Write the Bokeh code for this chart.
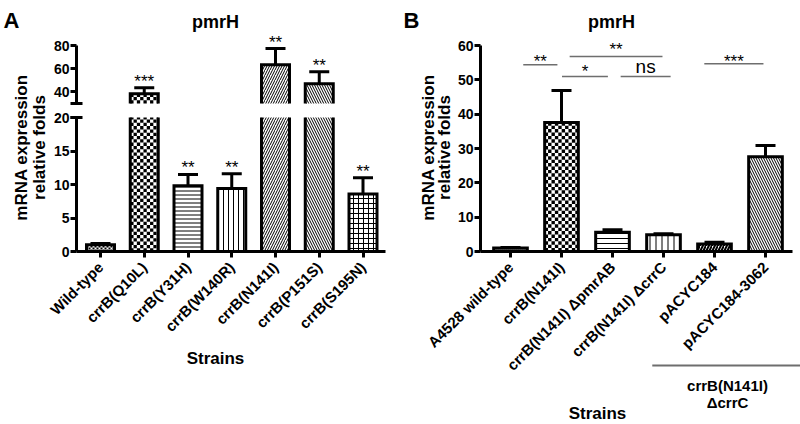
from math import pi, ceil
from bokeh.plotting import figure
from bokeh.models import (ColumnDataSource, Range1d, FixedTicker, Label, LabelSet,
                          Whisker, TeeHead, LinearAxis)
from bokeh.layouts import row
from bokeh.embed import file_html
from bokeh.resources import INLINE
from bokeh.core.properties import value

FONT = "Liberation Sans"

# ---------------- data: panel A ----------------
a_strains = ["Wild-type", "crrB(Q10L)", "crrB(Y31H)", "crrB(W140R)",
             "crrB(N141I)", "crrB(P151S)", "crrB(S195N)"]
a_values = [1.0, 38.3, 9.8, 9.4, 63.5, 47.0, 8.6]
a_err = [0.2, 5.2, 1.7, 2.2, 13.9, 10.4, 2.4]
a_sig = ["", "***", "**", "**", "**", "**", "**"]
a_low_ticks = [0, 5, 10, 15, 20]
a_high_ticks = [40, 60, 80]
a_break = (20, 30)
a_top = 80

# ---------------- data: panel B ----------------
b_strains = ["A4528 wild-type", "crrB(N141I)", "crrB(N141I) \u0394pmrAB",
             "crrB(N141I) \u0394crrC", "pACYC184", "pACYC184-3062"]
b_values = [1.0, 37.6, 5.6, 4.9, 2.2, 27.6]
b_err = [0.2, 9.3, 0.7, 0.3, 0.5, 3.3]
b_ticks = [0, 10, 20, 30, 40, 50, 60]
b_sig_text = ["**", "**", "*", "ns", "***"]
b_sig_x0 = [0.25, 1.16, 1.01, 2.16, 3.80]
b_sig_x1 = [0.92, 2.98, 1.91, 3.14, 4.96]
b_sig_y = [54.4, 56.8, 51.0, 51.0, 54.7]
b_group_lines = ["crrB(N141I)", "\u0394crrC"]
b_group_x = (2.78, 5.69)

# ---------------- styles ----------------
a_hatch = [" ", " ", "-", "|", "/", "\\", "+"]
a_hscale = [4, 6, 4, 5, 5, 5, 5]
a_hweight = [1, 1, 1, 1, 1, 1, 1]
a_check = [2.0, 3.3, 0, 0, 0, 0, 0]       # checkerboard cell size (px), 0 = none
b_hatch = [" ", " ", "-", "|", "/", "\\"]
b_hscale = [4, 6, 5, 6, 6, 5]
b_hweight = [1, 1, 1, 1, 2, 1]
b_check = [2.0, 3.4, 0, 0, 0, 0]
sig_offsets = [-2, 1, -1, 3, -3.5]
A_W, B_W = 0.64, 0.66

# ---------------- geometry (page pixels) ----------------
A_CANVAS = (0, 400, 0, 424)          # x0, x1, y0, y1 of panel A canvas
B_CANVAS = (400, 800, 0, 424)
A_X0, A_DX = 100.0, 43.75            # first bar centre, bar spacing
A_Y0, A_PPU = 251.0, 6.7             # y=0 pixel, px per unit (lower part)
A_HI_Y, A_HI_PPU = 45.0, 1.16        # pixel of y=80, px per unit (upper part)
A_AX = 76.0                          # y axis line pixel
A_RIGHT = 385.0
B_X0, B_DX = 510.0, 51.0
B_Y0, B_PPU = 251.0, 206.0 / 60.0
B_AX = 480.0
B_RIGHT = 792.0


def XA(px): return (px - A_X0) / A_DX
def YA(py): return (A_Y0 - py) / A_PPU
def HA(py): return a_top - (py - A_HI_Y) / A_HI_PPU
def XB(px): return (px - B_X0) / B_DX
def YB(py): return (B_Y0 - py) / B_PPU


def make_fig(canvas, xr, yr):
    x0, x1, y0, y1 = canvas
    p = figure(width=int(x1 - x0), height=int(y1 - y0), x_range=xr, y_range=yr,
               output_backend="svg", toolbar_location=None, tools="", title=None,
               x_axis_type=None, y_axis_type=None, min_border=0)
    p.grid.visible = False
    p.outline_line_color = None
    p.background_fill_color = "white"
    p.border_fill_color = "white"
    return p


def style_axis(ax, fs, standoff=1):
    ax.axis_line_width = 3
    ax.axis_line_color = "black"
    ax.major_tick_line_width = 3
    ax.major_tick_line_color = "black"
    ax.major_tick_out = 6
    ax.major_tick_in = 0
    ax.minor_tick_line_color = None
    ax.major_label_text_font = FONT
    ax.major_label_text_font_style = "bold"
    ax.major_label_text_font_size = fs
    ax.major_label_text_color = "black"
    ax.major_label_standoff = standoff


def add_label(p, x, y, text, size, bold=True, align="center", baseline="alphabetic",
              angle=0):
    p.add_layout(Label(x=x, y=y, text=text,
                       text_font=FONT, text_font_size=size,
                       text_font_style="bold" if bold else "normal",
                       text_align=align, text_baseline=baseline, angle=angle,
                       text_color="black"))


def add_errors(p, xs, lows, ups, yname="default"):
    src = ColumnDataSource(dict(x=xs, lower=lows, upper=ups))
    p.add_layout(Whisker(source=src, base="x", lower="lower", upper="upper",
                         dimension="height", line_width=3, line_color="black",
                         y_range_name=yname,
                         upper_head=TeeHead(size=20, line_width=3, line_color="black"),
                         lower_head=None))


def add_stars(p, xs, ys, texts, yname="default"):
    src = ColumnDataSource(dict(x=xs, y=ys, t=texts))
    p.add_layout(LabelSet(source=src, x="x", y="y", text="t", y_range_name=yname,
                          text_font=value(FONT), text_font_size=value("17px"),
                          text_align="center", text_baseline="alphabetic",
                          y_offset=1, text_color="black"))


def hline(p, y, x0, x1, width, color, yname="default"):
    s = ColumnDataSource(dict(y=[y], x0=[x0], x1=[x1]))
    p.add_layout(Whisker(source=s, base="y", lower="x0", upper="x1", dimension="width",
                         line_width=width, line_color=color, y_range_name=yname,
                         lower_head=None, upper_head=None))


def checker(p, xc, w, y0, y1, ppx, ppy, cell, yname="default"):
    """Checkerboard texture inside a bar piece, built from the bar's data extent."""
    left, right = xc - w / 2, xc + w / 2
    nx = int(ceil(w * ppx / cell))
    ny = int(ceil((y1 - y0) * ppy / cell))
    L, R, B, T = [], [], [], []
    for ix in range(nx):
        for iy in range(ny):
            if (ix + iy) % 2 == 0:
                l = left + ix * cell / ppx
                b = y0 + iy * cell / ppy
                L.append(l); R.append(min(l + cell / ppx, right))
                B.append(b); T.append(min(b + cell / ppy, y1))
    if L:
        p.quad(left=L, right=R, bottom=B, top=T, fill_color="black", line_color=None,
               y_range_name=yname)


# ================= panel A =================
na = len(a_strains)
ia = list(range(na))
pA = make_fig(A_CANVAS, Range1d(XA(A_CANVAS[0]), XA(A_CANVAS[1])),
              Range1d(YA(A_CANVAS[3]), YA(A_CANVAS[2])))
pA.extra_y_ranges = {"hi": Range1d(HA(A_CANVAS[3]), HA(A_CANVAS[2]))}

hatch_kw = dict(fill_color="white", hatch_pattern="hp", hatch_scale="hs",
                hatch_weight="hw", hatch_color="black")

# lower fills (cut at the break)
src_lo = ColumnDataSource(dict(
    x=ia, top=[min(v, a_break[0]) for v in a_values], bottom=[0] * na,
    hp=a_hatch, hs=a_hscale, hw=a_hweight))
pA.vbar(x="x", top="top", bottom="bottom", width=A_W, source=src_lo,
        line_color=None, **hatch_kw)
# upper fills
up = [i for i in ia if a_values[i] > a_break[1]]
src_up = ColumnDataSource(dict(
    x=up, top=[a_values[i] for i in up], bottom=[a_break[1]] * len(up),
    hp=[a_hatch[i] for i in up], hs=[a_hscale[i] for i in up],
    hw=[a_hweight[i] for i in up]))
pA.vbar(x="x", top="top", bottom="bottom", width=A_W, source=src_up,
        line_color=None, y_range_name="hi", **hatch_kw)

# checkerboard textures
for i in ia:
    if a_check[i] > 0:
        checker(pA, i, A_W, 0, min(a_values[i], a_break[0]), A_DX, A_PPU, a_check[i])
        if a_values[i] > a_break[1]:
            checker(pA, i, A_W, a_break[1], a_values[i], A_DX, A_HI_PPU, a_check[i], "hi")

# outlines
lo_xs, lo_ys = [], []
for i in ia:
    l, r = i - A_W / 2, i + A_W / 2
    if a_values[i] > a_break[0]:
        lo_xs.append([l, l, r, r]); lo_ys.append([a_break[0], 0, 0, a_break[0]])
    else:
        v = a_values[i]
        lo_xs.append([l, l, r, r, l]); lo_ys.append([0, v, v, 0, 0])
pA.multi_line(xs=lo_xs, ys=lo_ys, line_color="black", line_width=3, line_join="miter")
hi_xs = [[i - A_W / 2, i - A_W / 2, i + A_W / 2, i + A_W / 2] for i in up]
hi_ys = [[a_break[1], a_values[i], a_values[i], a_break[1]] for i in up]
pA.multi_line(xs=hi_xs, ys=hi_ys, line_color="black", line_width=3, line_join="miter",
              y_range_name="hi")

# error bars and stars
lo_rows = [i for i in ia if a_values[i] + a_err[i] <= a_break[0]]
add_errors(pA, lo_rows, [a_values[i] for i in lo_rows], [a_values[i] + a_err[i] for i in lo_rows])
add_stars(pA, lo_rows, [a_values[i] + a_err[i] for i in lo_rows], [a_sig[i] for i in lo_rows])
add_errors(pA, up, [a_values[i] for i in up], [a_values[i] + a_err[i] for i in up], "hi")
add_stars(pA, up, [a_values[i] + a_err[i] for i in up], [a_sig[i] for i in up], "hi")

# axes
ax_loc = XA(A_AX)
ylo = LinearAxis(fixed_location=ax_loc, bounds=(0, a_break[0]),
                 ticker=FixedTicker(ticks=a_low_ticks))
style_axis(ylo, "14px")
pA.add_layout(ylo, "left")
yhi = LinearAxis(fixed_location=ax_loc, bounds=(a_break[1], a_top), y_range_name="hi",
                 ticker=FixedTicker(ticks=a_high_ticks))
style_axis(yhi, "14px")
pA.add_layout(yhi, "left")
xa = LinearAxis(fixed_location=0, bounds=(ax_loc, XA(A_RIGHT)),
                ticker=FixedTicker(ticks=ia),
                major_label_overrides={i: s for i, s in enumerate(a_strains)},
                major_label_orientation=pi / 4)
style_axis(xa, "15px", standoff=7)
pA.add_layout(xa, "below")

# axis break caps
d = 6.0 / A_DX
hline(pA, a_break[0], ax_loc - d, ax_loc + d, 3, "black")
hline(pA, a_break[1], ax_loc - d, ax_loc + d, 3, "black", "hi")

# texts
add_label(pA, XA(3), YA(20), "A", "22px", align="left")
add_label(pA, XA(215), YA(21), "pmrH", "18px")
add_label(pA, XA(21), YA(147), "mRNA expression", "17px", baseline="middle", angle=pi / 2)
add_label(pA, XA(38.5), YA(147), "relative folds", "17px", baseline="middle", angle=pi / 2)
add_label(pA, XA(215), YA(358), "Strains", "17px")

# ================= panel B =================
nb = len(b_strains)
ib = list(range(nb))
pB = make_fig(B_CANVAS, Range1d(XB(B_CANVAS[0]), XB(B_CANVAS[1])),
              Range1d(YB(B_CANVAS[3]), YB(B_CANVAS[2])))
srcB = ColumnDataSource(dict(x=ib, top=b_values, bottom=[0] * nb,
                             hp=b_hatch, hs=b_hscale, hw=b_hweight))
pB.vbar(x="x", top="top", bottom="bottom", width=B_W, source=srcB,
        line_color=None, **hatch_kw)
for i in ib:
    if b_check[i] > 0:
        checker(pB, i, B_W, 0, b_values[i], B_DX, B_PPU, b_check[i])
pB.vbar(x="x", top="top", bottom="bottom", width=B_W, source=srcB,
        fill_color=None, line_color="black", line_width=3, line_join="miter")
add_errors(pB, ib, b_values, [v + e for v, e in zip(b_values, b_err)])

bx_loc = XB(B_AX)
yb = LinearAxis(fixed_location=bx_loc, bounds=(0, b_ticks[-1]),
                ticker=FixedTicker(ticks=b_ticks))
style_axis(yb, "14px")
pB.add_layout(yb, "left")
xb = LinearAxis(fixed_location=0, bounds=(bx_loc, XB(B_RIGHT)),
                ticker=FixedTicker(ticks=ib),
                major_label_overrides={i: s for i, s in enumerate(b_strains)},
                major_label_orientation=pi / 4)
style_axis(xb, "15px", standoff=7)
pB.add_layout(xb, "below")

# significance comparisons
sig_src = ColumnDataSource(dict(y=b_sig_y, x0=b_sig_x0, x1=b_sig_x1,
                                xm=[(a + b) / 2 for a, b in zip(b_sig_x0, b_sig_x1)],
                                t=b_sig_text, off=sig_offsets,
                                fs=["19px" if t == "ns" else "17px" for t in b_sig_text]))
pB.add_layout(Whisker(source=sig_src, base="y", lower="x0", upper="x1", dimension="width",
                      line_width=1.5, line_color="#6e6e6e", lower_head=None, upper_head=None))
pB.add_layout(LabelSet(source=sig_src, x="xm", y="y", text="t", y_offset="off",
                       text_font=value(FONT), text_font_size="fs",
                       text_align="center", text_baseline="alphabetic", text_color="black"))

# group bracket below the pACYC labels
hline(pB, YB(365), b_group_x[0], b_group_x[1], 2, "#6e6e6e")
add_label(pB, XB(727), YB(385), b_group_lines[0], "15px")
add_label(pB, XB(727), YB(402), b_group_lines[1], "15px")

add_label(pB, XB(403), YB(20), "B", "22px", align="left")
add_label(pB, XB(611), YB(21), "pmrH", "18px")
add_label(pB, XB(428), YB(147), "mRNA expression", "17px", baseline="middle", angle=pi / 2)
add_label(pB, XB(444), YB(147), "relative folds", "17px", baseline="middle", angle=pi / 2)
add_label(pB, XB(597), YB(413), "Strains", "17px")

layout = row(pA, pB)
open("out.html", "w").write(file_html(layout, INLINE))
